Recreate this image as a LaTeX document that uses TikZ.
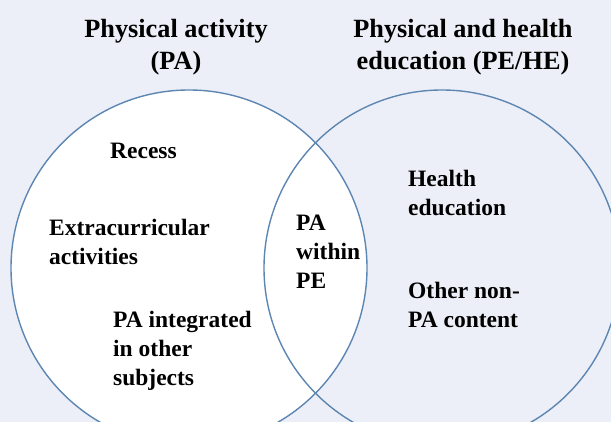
\documentclass[tikz,border=0pt]{standalone}
\usepackage{fontspec}
\setmainfont{Liberation Serif}
\definecolor{bg}{HTML}{ECEFF7}
\definecolor{ring}{HTML}{5D87B2}
\begin{document}
\begin{tikzpicture}[x=1pt,y=-1pt,
  ringc/.style={circle, draw=ring, line width=1.4pt, minimum size=356pt, inner sep=0pt},
  lbl/.style={inner sep=0pt, align=left, anchor=west, font=\bfseries\fontsize{23.5}{29}\selectfont},
  ttl/.style={inner sep=0pt, align=center, font=\bfseries\fontsize{26.3}{32}\selectfont}]
\path[use as bounding box, fill=bg] (0,0) rectangle (611,422);
\begin{scope}
\clip (0,0) rectangle (611,422);
\node[ringc, fill=white] (pa) at (189,268) {};
\node[ringc] (pehe) at (442,268) {};
\end{scope}
\node[ttl] (t1) at (176,47) {Physical activity\\(PA)};
\node[ttl] (t2) at (463,47) {Physical and health\\education (PE/HE)};
\node[lbl] (rec) at (110,151) {Recess};
\node[lbl] (extra) at (49,242) {Extracurricular\\activities};
\node[lbl] (integ) at (113,351) {PA integrated\\in other\\subjects};
\node[lbl] (within) at (296,252) {PA\\within\\PE};
\node[lbl] (health) at (408,193) {Health\\education};
\node[lbl] (other) at (408,305) {Other non-\\PA content};
\end{tikzpicture}
\end{document}
